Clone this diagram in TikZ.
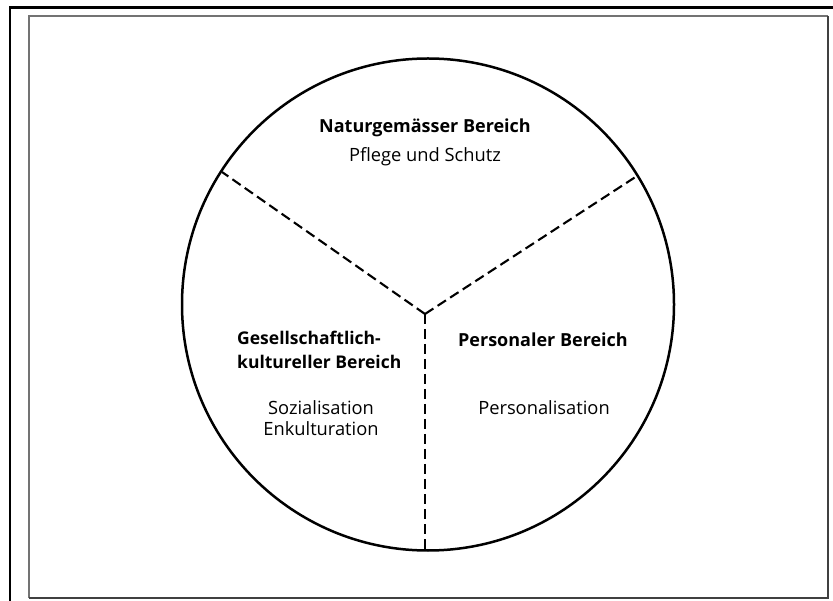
\documentclass[tikz,border=0pt]{standalone}
\usepackage{fontspec}
\setmainfont{Open Sans}
\begin{document}
\begin{tikzpicture}[x=1pt,y=-1pt,
  ring/.style={line width=2.5pt},
  divider/.style={line width=2.1pt, dash pattern=on 10pt off 5pt},
  head/.style={font=\fontsize{18}{20}\selectfont\bfseries, inner sep=0pt},
  sub/.style={font=\fontsize{18.3}{20}\selectfont, inner sep=0pt}]
\useasboundingbox (0,0) rectangle (833,601);
% frames
\draw[line width=2.4pt] (10,601) -- (10,7.5) -- (833,7.5);
\draw[line width=1.2pt, black!55] (29,598) -- (29,16) -- (828,16);
\draw[line width=1.8pt, black!75] (828,16) -- (828,598) -- (29,598);
% circle
\coordinate (c) at (428,304.5);
\draw[ring] (c) circle [radius=246];
% dividers
\coordinate (j) at (425,314);
\coordinate (l) at (222,172);
\coordinate (r) at (637,176);
\coordinate (b) at (425,551.5);
\draw[divider] (j) -- (l);
\draw[divider] (j) -- (r);
\draw[divider] (j) -- (b);
% texts
\node[head] (nat) at (425,128) {Naturgemässer Bereich};
\node[sub] (pfl) at (425,157) {Pflege und Schutz};
\node[head, anchor=west, align=left, font=\fontsize{17.5}{24}\selectfont\bfseries] (ges) at (237,350) {Gesellschaftlich-\\kultureller Bereich};
\node[sub, align=center, font=\fontsize{18.3}{21}\selectfont] (soz) at (321,418) {Sozialisation\\Enkulturation};
\node[head] (per) at (543,340) {Personaler Bereich};
\node[sub] (pers) at (544,408) {Personalisation};
\end{tikzpicture}
\end{document}
